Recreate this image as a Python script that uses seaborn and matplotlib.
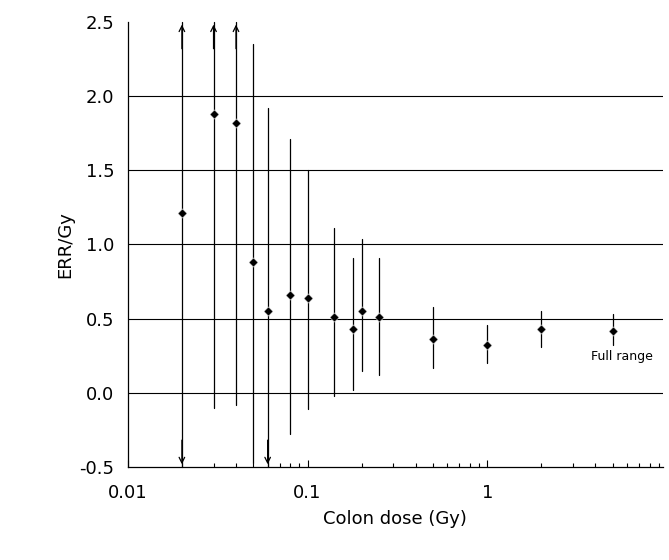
import matplotlib
matplotlib.use("Agg")
import matplotlib.pyplot as plt
import seaborn as sns
import numpy as np
import pandas as pd

dose = [0.02, 0.03, 0.04, 0.05, 0.06, 0.08, 0.1, 0.14, 0.18, 0.2, 0.25, 0.5, 1, 2, 5]
err = [1.21, 1.88, 1.82, 0.88, 0.55, 0.66, 0.64, 0.51, 0.43, 0.55, 0.51, 0.36, 0.32, 0.43, 0.42]
upper = [2.6, 2.6, 2.6, 2.35, 1.92, 1.71, 1.5, 1.11, 0.91, 1.04, 0.91, 0.58, 0.46, 0.55, 0.53]
lower = [-0.6, -0.1, -0.08, -0.47, -0.6, -0.28, -0.11, -0.02, 0.02, 0.15, 0.12, 0.17, 0.2, 0.31, 0.32]
up_arrow = [True, True, True] + [False] * 12
down_arrow = [True, False, False, False, True] + [False] * 10

df = pd.DataFrame(dict(dose=dose, err=err))
sns.set_style("white")
plt.rcParams["text.color"] = "black"
plt.rcParams["axes.labelcolor"] = "black"
plt.rcParams["xtick.color"] = "black"
plt.rcParams["ytick.color"] = "black"
fig = plt.figure(figsize=(6.69, 5.6), dpi=100)
ax = fig.add_axes([0.191, 0.166, 0.8, 0.795])
ax.set_xscale("log")
ax.set_xlim(0.01, 9.5)
ax.set_ylim(-0.5, 2.5)
for y in [0, 0.5, 1.0, 1.5, 2.0]:
    ax.axhline(y, color="black", lw=0.8, zorder=0)
for x, lo, hi, ua, da in zip(dose, lower, upper, up_arrow, down_arrow):
    top = 2.5 if ua else hi
    bot = -0.5 if da else lo
    ax.plot([x, x], [bot, top], color="black", lw=0.9, clip_on=False)
    if ua:
        ax.annotate("", xy=(x, 2.5), xytext=(x, 2.3),
                    arrowprops=dict(arrowstyle="->", color="black", lw=0.9), annotation_clip=False)
    if da:
        ax.annotate("", xy=(x, -0.5), xytext=(x, -0.3),
                    arrowprops=dict(arrowstyle="->", color="black", lw=0.9), annotation_clip=False)
sns.scatterplot(data=df, x="dose", y="err", marker="D", s=22, color="black", ax=ax, zorder=5)
ax.text(5.6, 0.29, "Full range", fontsize=9, ha="center", va="top")
ax.set_xticks([0.01, 0.1, 1])
ax.set_xticklabels(["0.01", "0.1", "1"])
ax.set_yticks([-0.5, 0, 0.5, 1.0, 1.5, 2.0, 2.5])
ax.set_yticklabels(["-0.5", "0.0", "0.5", "1.0", "1.5", "2.0", "2.5"])
ax.tick_params(axis="both", labelsize=13)
ax.tick_params(axis="x", which="both", direction="in", bottom=True, length=5, width=0.8, pad=12)
ax.tick_params(axis="x", which="minor", length=3)
ax.tick_params(axis="y", left=False, pad=6)
for s in ["top", "right"]:
    ax.spines[s].set_visible(False)
for s in ["left", "bottom"]:
    ax.spines[s].set_color("black")
    ax.spines[s].set_linewidth(0.9)
ax.set_xlabel("Colon dose (Gy)", fontsize=13, labelpad=6)
ax.set_ylabel("ERR/Gy", fontsize=13)
fig.savefig("out.png", dpi=100)
